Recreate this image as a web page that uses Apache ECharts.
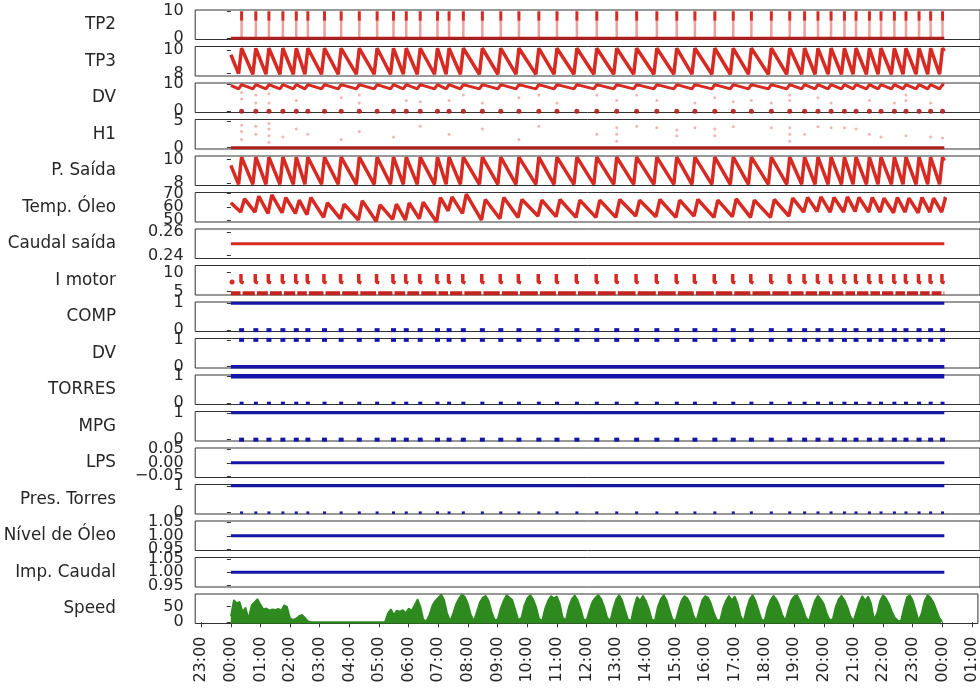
<!DOCTYPE html>
<html><head><meta charset="utf-8">
<script src="https://cdn.jsdelivr.net/npm/echarts@6/dist/echarts.min.js"></script>
<style>html,body{margin:0;padding:0;background:#fff}#c{width:980px;height:693px}</style>
</head><body><div id="c"></div>
<script>
// ---------- DATA (hours after 00:00 of the day shown) ----------
const panelNames = ['TP2','TP3','DV','H1','P. Saída','Temp. Óleo','Caudal saída','I motor','COMP','DV','TORRES','MPG','LPS','Pres. Torres','Nível de Óleo','Imp. Caudal','Speed'];
const hourTicks = [-1,0,1,2,3,4,5,6,7,8,9,10,11,12,13,14,15,16,17,18,19,20,21,22,23,24,25];
const yTicks = [[0,10],[8,10],[0,10],[0,5],[8,10],[50,60,70],[0.24,0.26],[5,10],[0,1],[0,1],[0,1],[0,1],[-0.05,0,0.05],[0,1],[0.95,1,1.05],[0.95,1,1.05],[0,50]];
const yTickLabels = [['0','10'],['8','10'],['0','10'],['0','5'],['8','10'],['50','60','70'],['0.24','0.26'],['5','10'],['0','1'],['0','1'],['0','1'],['0','1'],['\u22120.05','0.00','0.05'],['0','1'],['0.95','1.00','1.05'],['0.95','1.00','1.05'],['0','50']];
const yMin = [-0.5,7.8,-0.5,-0.25,7.8,48.5,0.2375,4.1,-0.05,-0.05,-0.05,-0.05,-0.055,-0.05,0.945,0.945,-4];
const yMax = [10.5,10.3,10.5,5.25,10.3,70.8,0.2625,11.8,1.05,1.05,1.05,1.05,0.055,1.05,1.055,1.055,91];

// compressor load cycles (hours)
const cycleHours = [0.36,0.84,1.28,1.75,2.20,2.59,3.15,3.71,4.32,4.92,5.47,5.90,6.37,6.95,7.34,7.82,8.46,9.08,9.69,10.36,10.97,11.64,12.31,12.98,13.65,14.33,15.00,15.61,16.28,16.90,17.51,18.18,18.80,19.30,19.75,20.19,20.64,21.03,21.48,21.87,22.32,22.71,23.15,23.54,23.94];

const tp2SpikeTop = [10,10,10,10,10,10,10,10,10,10,10,10,10,10,10,10,10,10,10,10,10,10,10,10,10,10,10,10,10,10,10,10,10,10,10,10,10,10,10,10,10,10,10,10,10];
const tp3Peak = [10.15,10.15,10.15,10.15,10.15,10.15,10.15,10.15,10.15,10.15,10.15,10.15,10.15,10.15,10.15,10.15,10.15,10.15,10.15,10.15,10.15,10.15,10.15,10.15,10.15,10.15,10.15,10.15,10.15,10.15,10.15,10.15,10.15,10.15,10.15,10.15,10.15,10.15,10.15,10.15,10.15,10.15,10.15,10.15,10.15];
const tp3Trough = [8.0,7.95,7.95,7.95,7.95,7.95,7.95,7.95,7.95,7.95,7.95,7.95,7.95,7.95,7.95,7.95,7.95,7.95,7.95,7.95,7.95,7.95,7.95,7.95,7.95,7.95,7.95,7.95,7.95,7.95,7.95,7.95,7.95,7.95,7.95,7.95,7.95,7.95,7.95,7.95,7.95,7.95,7.95,7.95,7.95];
const pSaidaPeak = [10.2,10.2,10.2,10.2,10.2,10.2,10.2,10.2,10.2,10.2,10.2,10.2,10.2,10.2,10.2,10.2,10.2,10.2,10.2,10.2,10.2,10.2,10.2,10.2,10.2,10.2,10.2,10.2,10.2,10.2,10.2,10.2,10.2,10.2,10.2,10.2,10.2,10.2,10.2,10.2,10.2,10.2,10.2,10.2,10.2];
const pSaidaTrough = [7.9,7.9,7.9,7.9,7.9,7.9,7.9,7.9,7.9,7.9,7.9,7.9,7.9,7.9,7.9,7.9,7.9,7.9,7.9,7.9,7.9,7.9,7.9,7.9,7.9,7.9,7.9,7.9,7.9,7.9,7.9,7.9,7.9,7.9,7.9,7.9,7.9,7.9,7.9,7.9,7.9,7.9,7.9,7.9,7.9];
const dvPeak = [9.9,9.9,9.9,9.9,9.9,9.9,9.9,9.9,9.9,9.9,9.9,9.9,9.9,9.9,9.9,9.9,9.9,9.9,9.9,9.9,9.9,9.9,9.9,9.9,9.9,9.9,9.9,9.9,9.9,9.9,9.9,9.9,9.9,9.9,9.9,9.9,9.9,9.9,9.9,9.9,9.9,9.9,9.9,9.9,9.9];
const dvTrough = [8.3,8.3,8.3,8.3,8.3,8.3,8.3,8.3,8.3,8.3,8.3,8.3,8.3,8.3,8.3,8.3,8.3,8.3,8.3,8.3,8.3,8.3,8.3,8.3,8.3,8.3,8.3,8.3,8.3,8.3,8.3,8.3,8.3,8.3,8.3,8.3,8.3,8.3,8.3,8.3,8.3,8.3,8.3,8.3,8.3];
const tempTrough = [56,56,55,55.5,55,54,52,51,50,49,50.5,50,51,48.5,57,55,50,51,52,53,52.5,52,52,52,53,52.5,52,53,52,52.5,52,52,53,56,56.5,56,56,56.5,56,56,55.5,56,55.5,56,56];
const tempPeak = [66,68,69,67,65,67,63,62,64.5,61.5,62,63,63.5,67,67.5,69.5,65.5,67,65.5,65,65.5,65,65,65.5,65,65.5,65,65.5,65,66,65,65.5,66.5,67,67.5,67,67.5,67,67,66.5,67,66.5,67,66.5,67];
const caudalSaida = 0.25;
const iMotorIdle = 4.55, iMotorPeak = 9.6, iMotorLoad = 7.5;
const h1Dots = [[0.36,1.5],[0.36,3],[0.36,4.2],[0.84,2.5],[0.84,4],[1.28,1],[1.28,2.2],[1.28,3.5],[1.28,4.5],[1.75,2],[2.2,3.5],[2.59,2.5],[3.71,1.5],[4.32,3],[5.47,2],[6.37,4],[7.34,2.5],[8.46,3.5],[9.69,1.5],[10.36,4],[12.31,2.5],[12.98,3.7],[12.98,2.5],[12.98,1.2],[13.65,4],[14.33,3.7],[15.0,3.3],[15.0,2.2],[15.61,3.7],[16.28,3.5],[16.28,2.2],[16.9,3.9],[18.18,3.7],[18.8,3.7],[18.8,2.5],[18.8,1.2],[19.3,2.5],[19.75,3.9],[20.19,3.7],[20.64,3.7],[21.03,3.5],[21.48,2.5],[21.87,2],[22.71,2.2],[23.54,2],[23.94,1.8]];
const dvDots = [[0.36,7],[0.36,4.5],[0.84,6],[0.84,3],[1.28,6.5],[1.28,3],[2.2,4],[3.71,5],[4.32,6],[4.32,3],[5.9,4],[6.37,3.5],[7.34,4],[7.82,6],[8.46,3],[9.69,5],[10.36,6],[10.97,3],[12.31,6],[12.98,4],[13.65,6],[14.33,4],[15.61,3],[16.28,5],[16.9,3.5],[17.51,4],[18.18,3],[18.8,6],[18.8,4],[19.75,5],[20.19,3],[21.48,4],[22.32,3],[22.71,6],[22.71,4],[23.54,3]];
const speed = [
20,72,62,66,35,48,12,55,65,75,
58,42,45,38,42,40,44,38,55,50,
14,8,12,20,24,15,4,1,1,1,
1,1,1,1,1,1,1,1,1,1,
1,1,1,1,1,1,1,1,1,1,
1,1,2,30,42,25,38,35,40,30,
45,38,55,75,50,8,5,25,55,70,
80,90,72,30,5,30,60,78,90,82,
60,25,5,35,65,80,86,70,35,8,
10,45,70,88,80,72,40,8,15,55,
78,88,75,50,12,6,45,70,85,78,
84,60,15,8,50,75,87,72,45,10,
8,40,68,80,88,75,50,15,6,45,
75,88,72,40,10,5,50,82,70,86,
70,45,10,6,50,75,88,72,40,10,
5,40,70,85,78,60,25,5,40,72,
85,80,60,30,8,6,45,70,86,72,
84,60,20,5,45,75,88,70,40,10,
5,45,72,86,75,55,25,6,40,70,
84,88,70,45,15,5,40,70,86,75,
60,30,8,10,50,75,86,72,50,20,
5,35,65,85,70,84,60,10,30,70,
88,78,60,35,15,6,5,45,80,88,
72,40,6,30,70,88,80,65,40,15,
2];
const speedStep = 0.1;

// ---------- BUILD ----------
const RED = '#d62a22', DARKRED = '#b01e1e', BLUE = '#1515a8', GREEN = '#2e8a1f';
const N = panelNames.length;
const GRID_LEFT = 195.2, GRID_W = 787.6, TOP0 = 10, PITCH = 36.5, H = 29.5;
const FONT = 'DejaVu Sans', FS = 16, FS_NAME = 16.8, TXT = '#262626';
const grids = [], xAxes = [], yAxes = [], series = [], graphics = [];
const hh = v => { const h = ((v % 24) + 24) % 24; return (h < 10 ? '0' : '') + h + ':00'; };

for (let i = 0; i < N; i++) {
  const isLast = i === N - 1;
  grids.push({left: GRID_LEFT, top: TOP0 + i * PITCH, width: GRID_W, height: H, show: true,
    borderColor: '#333333', borderWidth: 1, backgroundColor: 'transparent'});
  xAxes.push({type: 'value', gridIndex: i, min: -1.2, max: 25.2, splitLine: {show: false},
    axisLine: {show: false},
    axisTick: {show: isLast, length: 5, lineStyle: {color: '#333333'}, customValues: hourTicks},
    axisLabel: {show: isLast, customValues: hourTicks, rotate: 90, margin: 13, fontSize: FS,
      fontFamily: FONT, color: TXT, formatter: v => hh(Math.round(v))}});
  yAxes.push({type: 'value', gridIndex: i, min: yMin[i], max: yMax[i], splitLine: {show: false},
    axisLine: {show: false},
    axisTick: {show: true, length: 4, lineStyle: {color: '#333333'}, customValues: yTicks[i]},
    axisLabel: {show: false}});
  graphics.push({type: 'text', x: 116, y: TOP0 + i * PITCH + H / 2,
    style: {text: panelNames[i], fill: TXT, fontSize: FS_NAME, fontFamily: FONT, align: 'right', verticalAlign: 'middle'}});
}

function line(i, data, color, width, extra) {
  series.push(Object.assign({type: 'line', xAxisIndex: i, yAxisIndex: i, data: data, showSymbol: false,
    symbol: 'none', lineStyle: {color: color, width: width}, itemStyle: {color: color},
    animation: false, silent: true, connectNulls: false, clip: true}, extra || {}));
}
function scatter(i, data, color, size, symbol, opacity) {
  series.push({type: 'scatter', xAxisIndex: i, yAxisIndex: i, data: data, symbol: symbol || 'rect',
    symbolSize: size, itemStyle: {color: color, opacity: opacity == null ? 1 : opacity},
    animation: false, silent: true, clip: true});
}
function sawtooth(start, troughs, peaks, end, riseBefore, peakAfter) {
  const d = [[0, start]];
  cycleHours.forEach((t, k) => { d.push([t - riseBefore, troughs[k]]); d.push([t + peakAfter, peaks[k]]); });
  d.push([24, end]);
  return d;
}
const flat = v => [[0, v], [24, v]];
const atCycles = v => cycleHours.map(t => [t, v]);

// 0 TP2
line(0, flat(0), DARKRED, 3);
series.push({type: 'custom', xAxisIndex: 0, yAxisIndex: 0, animation: false, silent: true, clip: true,
  data: cycleHours.map((t, k) => [t, tp2SpikeTop[k]]),
  renderItem: (params, api) => {
    const t = api.value(0), top = api.value(1);
    const p1 = api.coord([t, top]), p2 = api.coord([t, top * 0.65]), p3 = api.coord([t, 0]);
    return {type: 'group', children: [
      {type: 'line', shape: {x1: p2[0], y1: p2[1], x2: p3[0], y2: p3[1]}, style: {stroke: 'rgba(214,42,34,0.45)', lineWidth: 2.5}},
      {type: 'line', shape: {x1: p1[0], y1: p1[1], x2: p2[0], y2: p2[1]}, style: {stroke: RED, lineWidth: 3}}]};
  }});
// 1 TP3
line(1, sawtooth(9.6, tp3Trough, tp3Peak, 9.9, 0.1, 0), RED, 3.5);
// 2 DV (red)
scatter(2, dvDots, RED, 3, 'circle', 0.35);
scatter(2, atCycles(0), DARKRED, 5, 'circle', 0.9);
line(2, sawtooth(9.6, dvTrough, dvPeak, 9.8, 0.1, 0), RED, 3);
// 3 H1
scatter(3, h1Dots, RED, 3, 'circle', 0.35);
line(3, flat(0), DARKRED, 3);
// 4 P. Saída
line(4, sawtooth(9.5, pSaidaTrough, pSaidaPeak, 9.9, 0.1, 0), RED, 3.5);
// 5 Temp. Óleo
line(5, sawtooth(63, tempTrough, tempPeak, 66, 0.03, 0.1), RED, 3.5);
// 6 Caudal saída
line(6, flat(caudalSaida), RED, 3);
// 7 I motor
(function () {
  const base = [], ell = [];
  let prev = 0;
  cycleHours.forEach(t => {
    base.push([prev, iMotorIdle], [t - 0.035, iMotorIdle], [t, '-']);
    ell.push([t - 0.02, iMotorPeak], [t - 0.02, iMotorLoad], [t + 0.07, iMotorLoad - 0.2], [t + 0.08, '-']);
    prev = t + 0.035;
  });
  base.push([prev, iMotorIdle], [24, iMotorIdle]);
  line(7, base, '#c4241d', 4);
  line(7, ell, RED, 3.5);
  scatter(7, [[0.04, 7.5]], RED, 5, 'circle', 1);
})();
// 8 COMP
line(8, flat(1), BLUE, 3);
scatter(8, atCycles(0), BLUE, [5, 4]);
// 9 DV (blue)
line(9, flat(0), BLUE, 3.5);
scatter(9, atCycles(1), BLUE, [5, 4]);
// 10 TORRES
line(10, flat(1), BLUE, 4.5);
scatter(10, atCycles(0), BLUE, [4, 3]);
// 11 MPG
line(11, flat(1), BLUE, 3);
scatter(11, atCycles(0), BLUE, [5, 4]);
// 12 LPS
line(12, flat(0), BLUE, 3);
// 13 Pres. Torres
line(13, flat(1), BLUE, 3);
scatter(13, atCycles(0), BLUE, [3, 2.5]);
// 14 Nível de Óleo
line(14, flat(1), BLUE, 3);
// 15 Imp. Caudal
line(15, flat(1), BLUE, 3);
// 16 Speed
line(16, speed.map((v, k) => [+(k * speedStep).toFixed(2), v]), GREEN, 1.5,
  {areaStyle: {color: GREEN, opacity: 1, origin: 'start'}});

const chart = echarts.init(document.getElementById('c'), null, {renderer: 'canvas'});
chart.setOption({
  animation: false,
  backgroundColor: '#ffffff',
  textStyle: {fontFamily: FONT},
  grid: grids, xAxis: xAxes, yAxis: yAxes, series: series, graphic: graphics
});

// y tick labels placed through each y axis scale (matplotlib lets them overlap)
const tickTexts = [];
for (let i = 0; i < N; i++) {
  yTicks[i].forEach((v, k) => {
    const py = chart.convertToPixel({yAxisIndex: i}, v);
    tickTexts.push({type: 'text', x: GRID_LEFT - 11.5, y: py,
      style: {text: yTickLabels[i][k], fill: TXT, fontSize: FS, fontFamily: FONT, align: 'right', verticalAlign: 'middle'}});
  });
}
chart.setOption({graphic: graphics.concat(tickTexts)});
</script></body></html>
